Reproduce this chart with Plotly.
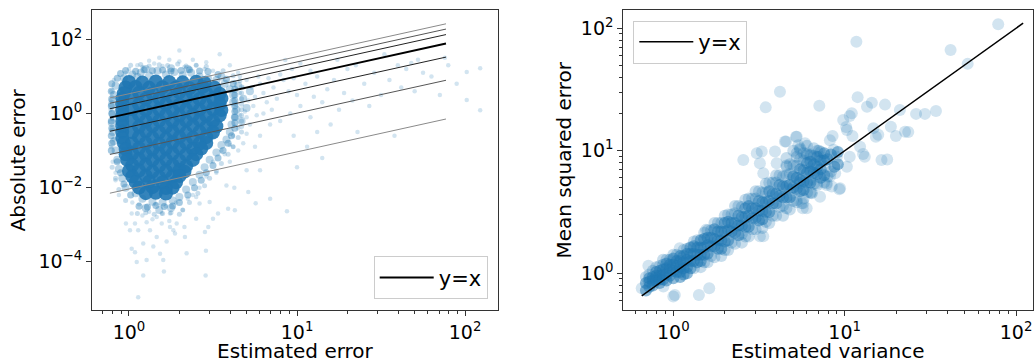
import math
import plotly.graph_objects as go

W, H = 1034, 362
BLUE = '#1f77b4'
FONT = 'DejaVu Sans'

# ---------------- left panel: absolute error vs estimated error ----------------
# dense core of the cloud (estimated error, absolute error)
left_core = [
    (1.0, 7.08), (1.202, 6.8), (1.445, 7.3), (1.738, 7.0), (2.089, 6.9), (2.512, 7.2), (2.818, 6.6),
    (0.955, 5.0), (1.096, 5.2), (1.318, 4.9), (1.585, 5.1), (1.905, 5.0), (2.291, 4.8), (2.754, 5.2), (3.236, 4.9),
    (0.933, 3.5), (1.148, 3.6), (1.380, 3.45), (1.660, 3.55), (1.995, 3.7), (2.399, 3.5), (2.884, 3.6), (3.467, 3.4),
    (0.912, 2.5), (1.047, 2.6), (1.259, 2.45), (1.514, 2.55), (1.820, 2.5), (2.188, 2.6), (2.630, 2.45), (3.162, 2.5), (3.548, 2.55),
    (0.912, 1.78), (1.148, 1.75), (1.380, 1.82), (1.660, 1.78), (1.995, 1.72), (2.399, 1.8), (2.884, 1.76), (3.467, 1.8),
    (0.912, 1.26), (1.047, 1.3), (1.259, 1.24), (1.514, 1.27), (1.820, 1.22), (2.188, 1.28), (2.630, 1.25), (3.162, 1.3), (3.548, 1.24),
    (0.912, 0.89), (1.148, 0.9), (1.380, 0.87), (1.660, 0.91), (1.995, 0.88), (2.399, 0.9), (2.884, 0.86), (3.467, 0.89),
    (0.912, 0.63), (1.047, 0.65), (1.259, 0.62), (1.514, 0.64), (1.820, 0.61), (2.188, 0.63), (2.630, 0.66), (3.162, 0.62),
    (0.912, 0.45), (1.148, 0.44), (1.380, 0.46), (1.660, 0.43), (1.995, 0.45), (2.399, 0.47), (2.884, 0.44), (3.311, 0.45),
    (0.912, 0.32), (1.047, 0.31), (1.259, 0.33), (1.514, 0.31), (1.820, 0.32), (2.188, 0.30), (2.630, 0.32), (3.162, 0.31),
    (0.912, 0.22), (1.148, 0.23), (1.380, 0.22), (1.660, 0.21), (1.995, 0.23), (2.399, 0.22), (2.884, 0.23),
    (0.933, 0.16), (1.047, 0.155), (1.259, 0.16), (1.514, 0.15), (1.820, 0.165), (2.188, 0.16), (2.630, 0.155), (2.884, 0.16),
    (0.955, 0.11), (1.148, 0.115), (1.380, 0.108), (1.660, 0.112), (1.995, 0.118), (2.399, 0.11), (2.692, 0.113),
    (0.955, 0.079), (1.047, 0.082), (1.259, 0.077), (1.514, 0.08), (1.820, 0.083), (2.188, 0.078), (2.512, 0.08),
    (0.977, 0.056), (1.148, 0.058), (1.380, 0.055), (1.660, 0.057), (1.995, 0.054), (2.399, 0.056),
    (1.047, 0.040), (1.259, 0.041), (1.514, 0.039), (1.820, 0.040), (2.188, 0.038),
    (1.0, 0.028), (1.148, 0.029), (1.380, 0.027), (1.660, 0.028), (1.995, 0.029), (2.138, 0.027),
    (1.047, 0.020), (1.259, 0.021), (1.514, 0.019), (1.820, 0.020), (1.995, 0.0205),
    (1.096, 0.0141), (1.318, 0.0145), (1.585, 0.0138), (1.905, 0.014),
    (1.148, 0.010), (1.380, 0.0103), (1.660, 0.0097), (1.820, 0.010),
    (1.259, 0.0071), (1.445, 0.0073), (1.660, 0.0069),
]

# points just outside the core (inner and outer fringe)
left_edge_inner = [
    (0.955, 14.45), (1.096, 13.8), (1.230, 15.0), (1.380, 14.2), (1.585, 14.8), (1.778, 13.9), (2.042, 14.5),
    (2.291, 15.1), (2.630, 14.0), (2.951, 13.5),
    (3.388, 11.22), (3.802, 8.318), (4.169, 6.31),
    (4.266, 4.467), (4.266, 3.162), (4.266, 2.239), (4.266, 1.585), (4.266, 1.122), (4.266, 0.794), (4.266, 0.562),
    (4.266, 0.398),
    (4.074, 0.251), (3.890, 0.158), (3.631, 0.1), (3.388, 0.0631), (3.162, 0.0398), (2.884, 0.0251), (2.692, 0.0158),
    (2.455, 0.01), (2.239, 0.00631), (1.995, 0.00398),
    (1.148, 0.00316), (1.288, 0.0030), (1.445, 0.0033), (1.622, 0.0031), (1.820, 0.0032),
    (1.023, 0.00631), (0.933, 0.0126), (0.891, 0.0251), (0.851, 0.0501),
    (0.785, 0.1), (0.79, 0.158), (0.785, 0.251), (0.79, 0.398), (0.785, 0.631), (0.79, 1.0), (0.785, 1.585),
    (0.79, 2.512), (0.785, 3.981), (0.79, 6.31),
    (0.851, 8.913), (0.891, 12.02),
]
left_edge_outer = [
    (1.023, 19.9), (1.175, 21.0), (1.318, 19.0), (1.514, 20.5), (1.698, 19.5), (1.950, 21.5), (2.188, 19.0),
    (2.512, 20.0), (2.884, 18.5),
    (3.631, 14.13), (4.169, 10.47), (4.571, 7.586),
    (4.677, 5.248), (4.677, 3.548), (4.677, 2.512), (4.677, 1.778), (4.677, 1.259), (4.677, 0.891), (4.677, 0.631),
    (4.677, 0.447), (4.677, 0.316),
    (4.467, 0.224), (4.169, 0.126), (3.890, 0.0794), (3.548, 0.0447), (3.311, 0.0282), (3.020, 0.0178),
    (2.818, 0.0112), (2.570, 0.00708), (2.291, 0.00398), (2.089, 0.00251),
    (1.122, 0.002), (1.259, 0.0021), (1.413, 0.0019), (1.585, 0.002), (1.778, 0.0021), (1.995, 0.0019),
    (0.955, 0.00447), (0.871, 0.00891), (0.832, 0.0178), (0.794, 0.0355),
]

# fringe around the core
left_mid = [
    (1.047, 11.2), (1.175, 12.6), (1.318, 10.5), (1.479, 14.1), (1.660, 11.2), (1.862, 13.2), (2.089, 10.7),
    (2.344, 12.6), (2.630, 10.0), (2.951, 8.91), (1.259, 15.8), (1.778, 16.6), (2.239, 15.8), (1.122, 9.55), (0.933, 8.91),
    (3.311, 7.94), (3.715, 6.31), (3.981, 4.47), (4.169, 3.16), (3.548, 10.0), (4.467, 5.62),
    (4.169, 2.0), (4.365, 1.26), (4.266, 0.794), (4.074, 0.501), (3.981, 0.316), (4.786, 2.51), (5.012, 1.41),
    (4.677, 0.631), (5.248, 3.98), (3.802, 0.2),
    (3.548, 0.141), (3.311, 0.0891), (3.020, 0.0562), (2.818, 0.0355), (2.630, 0.0224), (2.399, 0.0141),
    (2.188, 0.00891), (1.995, 0.00562), (3.162, 0.251),
    (1.820, 0.00447), (1.585, 0.00398), (1.380, 0.00417), (1.202, 0.00501), (1.096, 0.00708), (1.514, 0.00251),
    (1.259, 0.00282), (1.778, 0.00282),
    (0.832, 5.62), (0.813, 3.16), (0.794, 1.78), (0.80, 1.0), (0.79, 0.562), (0.80, 0.316), (0.813, 0.178),
    (0.832, 0.1), (0.851, 0.0562), (0.871, 0.0316), (0.912, 0.0178), (0.955, 0.01),
]

# sparse individual points
left_sparse = [
    (1.0, 15.8), (1.122, 20.0), (1.413, 22.4), (1.585, 19.1), (1.995, 25.1), (2.138, 17.8), (2.512, 20.0),
    (2.818, 15.8), (3.162, 14.1), (1.995, 50.1), (3.467, 39.8), (1.514, 31.6), (2.399, 28.2), (3.981, 20.0),
    (4.467, 12.6), (1.318, 26.3), (0.955, 12.6), (1.738, 28.2), (2.884, 24.0), (1.202, 17.8),
    (5.012, 7.94), (5.370, 5.01), (5.623, 2.82), (5.495, 1.585), (5.754, 0.891), (5.248, 0.501), (5.012, 0.282),
    (6.026, 6.31), (6.310, 3.55), (6.607, 2.0), (6.310, 1.0), (6.918, 0.501), (6.026, 0.251), (7.244, 5.01),
    (7.586, 2.51), (7.079, 1.26), (7.943, 0.631), (4.786, 0.158), (4.467, 0.1), (5.623, 0.126), (8.318, 7.94),
    (8.913, 3.98), (4.571, 10.0), (4.898, 1.122), (5.129, 2.24), (5.888, 10.0), (6.761, 8.91), (7.943, 11.2),
    (4.266, 7.08), (4.571, 3.55), (4.365, 1.78), (4.571, 0.891), (4.467, 0.398), (4.169, 0.251), (3.981, 0.141),
    (3.715, 0.0794), (4.786, 5.01), (5.012, 0.794),
    (10.0, 3.16), (10.47, 1.585), (11.22, 6.31), (12.02, 0.794), (12.59, 2.82), (13.18, 10.0), (14.13, 2.0),
    (15.14, 4.47), (15.85, 0.501), (16.6, 7.94), (17.78, 1.26), (19.05, 3.55), (19.95, 15.8), (21.38, 2.24),
    (22.91, 0.316), (25.12, 6.31), (26.92, 1.585), (28.84, 12.6), (31.62, 3.16), (9.55, 0.251), (11.48, 0.126),
    (14.13, 0.0631), (9.333, 15.8), (10.47, 22.4), (17.38, 28.2), (22.39, 20.0), (9.12, 1.0), (13.18, 0.316),
    (8.51, 27.5), (10.0, 0.0355), (9.55, 8.91), (12.02, 14.1),
    (35.48, 7.94), (39.81, 20.0), (44.67, 15.8), (50.12, 3.98), (56.23, 12.6), (63.1, 10.0), (70.79, 3.16),
    (79.43, 20.0), (89.13, 6.31), (102.3, 2.29), (123.0, 1.23), (102.3, 13.2), (123.0, 16.6), (38.02, 0.251),
    (52.48, 28.2), (47.86, 22.9), (75.86, 31.6), (33.11, 39.8), (41.69, 5.01),
    (1.135, 1.1e-5), (1.216, 4.27e-5), (1.614, 5.5e-5), (2.858, 4.27e-5), (1.112, 9.8e-5), (1.274, 1.12e-4),
    (1.600, 1.12e-4), (2.203, 1.7e-4), (2.871, 2.0e-4), (1.038, 2.24e-4), (1.086, 1.82e-4), (1.531, 1.66e-4),
    (1.675, 3.55e-4), (1.216, 3.09e-4), (1.396, 2.57e-4), (0.959, 1.07e-3), (1.014, 7.08e-4), (2.965, 8.7e-4),
    (2.831, 6.31e-4), (1.754, 8.7e-4), (1.879, 5.75e-4), (2.138, 8.7e-4), (2.153, 4.68e-4), (2.512, 1.45e-3),
    (3.162, 1.45e-3), (3.388, 2.0e-3), (3.89, 2.69e-3), (4.266, 2.45e-3), (5.129, 7.59e-3), (5.675, 3.8e-3),
    (6.918, 5.0e-3), (4.236, 0.01), (3.802, 0.0115), (3.02, 4.07e-3), (2.63, 3.72e-3), (2.512, 5.62e-3),
    (1.038, 2.0e-3), (1.086, 1.07e-3), (1.135, 7.08e-4), (1.334, 7.08e-4), (1.462, 4.68e-4), (1.567, 1.07e-3),
    (1.567, 2.0e-3), (1.754, 2.0e-3), (1.837, 7.08e-4), (1.462, 1.62e-3), (1.274, 1.17e-3), (1.923, 1.07e-3),
    (8.71, 2.29e-3), (5.012, 0.0295), (6.026, 0.0295), (0.871, 6.31e-3), (0.832, 0.0158),
    (1.148, 3.55e-3), (1.318, 2.24e-3), (1.445, 3.55e-3), (1.660, 3.16e-3), (1.905, 3.98e-3), (2.089, 2.51e-3),
    (1.380, 1.41e-3), (1.738, 1.26e-3), (1.202, 1.78e-3), (2.239, 5.01e-3), (1.047, 3.98e-3),
    (3.162, 0.0501), (3.548, 0.1), (2.884, 0.02), (2.63, 0.01), (3.311, 0.0251), (3.981, 0.0501), (4.169, 0.126),
    (2.399, 6.31e-3),
    (0.785, 3.98), (0.776, 1.26), (0.79, 0.398), (0.78, 0.126), (0.80, 0.0501), (0.813, 7.94), (0.832, 0.0251),
    (0.776, 2.24), (0.795, 0.708), (0.81, 0.2),
]

# reference lines y = k * x drawn over the estimated-error range
left_line_x = [0.77, 77.0]
left_line_factors = [3.4, 2.45, 1.74, 1.0, 0.43, 0.102, 0.0092]
left_line_colors = ['#8a8a8a', '#555555', '#222222', '#000000', '#222222', '#555555', '#8a8a8a']
left_line_widths = [1.0, 1.0, 1.0, 1.9, 1.0, 1.0, 1.0]

# ---------------- right panel: mean squared error vs estimated variance ----------------
right_band = [
    (0.692, 0.724), (0.692, 0.832), (0.692, 0.933),
    (0.724, 0.776), (0.724, 0.851), (0.724, 0.912), (0.724, 0.977),
    (0.759, 0.794), (0.759, 0.871), (0.759, 0.933), (0.759, 1.047),
    (0.794, 0.871), (0.794, 0.955), (0.794, 1.023), (0.794, 1.122),
    (0.832, 0.832), (0.832, 0.891), (0.832, 0.955), (0.832, 1.047), (0.832, 1.148),
    (0.871, 0.891), (0.871, 0.977), (0.871, 1.072), (0.871, 1.175), (0.871, 1.288),
    (0.912, 0.871), (0.912, 0.977), (0.912, 1.096), (0.912, 1.202), (0.912, 1.288),
    (0.955, 0.955), (0.955, 1.072), (0.955, 1.175), (0.955, 1.288),
    (1.0, 0.912), (1.0, 1.047), (1.0, 1.175), (1.0, 1.318), (1.0, 1.413),
    (1.047, 1.023), (1.047, 1.148), (1.047, 1.259), (1.047, 1.413),
    (1.096, 0.933), (1.096, 1.023), (1.096, 1.122), (1.096, 1.259), (1.096, 1.380),
    (1.148, 0.977), (1.148, 1.096), (1.148, 1.230), (1.148, 1.380), (1.148, 1.549),
    (1.202, 1.0), (1.202, 1.122), (1.202, 1.288), (1.202, 1.445), (1.202, 1.585),
    (1.259, 1.096), (1.259, 1.259), (1.259, 1.445), (1.259, 1.622),
    (1.318, 1.096), (1.318, 1.259), (1.318, 1.445), (1.318, 1.660), (1.318, 1.820),
    (1.380, 1.230), (1.380, 1.413), (1.380, 1.622), (1.380, 1.862),
    (1.445, 1.122), (1.445, 1.259), (1.445, 1.413), (1.445, 1.622), (1.445, 1.862),
    (1.514, 1.230), (1.514, 1.413), (1.514, 1.622), (1.514, 1.905), (1.514, 2.138),
    (1.585, 1.230), (1.585, 1.445), (1.585, 1.698), (1.585, 1.950), (1.585, 2.239),
    (1.660, 1.380), (1.660, 1.660), (1.660, 1.950), (1.660, 2.239),
    (1.738, 1.349), (1.738, 1.660), (1.738, 1.905), (1.738, 2.291), (1.738, 2.570),
    (1.820, 1.585), (1.820, 1.862), (1.820, 2.188), (1.820, 2.570),
    (1.905, 1.380), (1.905, 1.585), (1.905, 1.862), (1.905, 2.188), (1.905, 2.570),
    (1.995, 1.549), (1.995, 1.820), (1.995, 2.188), (1.995, 2.570), (1.995, 2.951),
    (2.089, 1.549), (2.089, 1.862), (2.089, 2.239), (2.089, 2.630), (2.089, 3.020),
    (2.188, 1.778), (2.188, 2.188), (2.188, 2.570), (2.188, 3.020),
    (2.291, 1.738), (2.291, 2.138), (2.291, 2.570), (2.291, 3.090), (2.291, 3.548),
    (2.399, 2.042), (2.399, 2.455), (2.399, 2.951), (2.399, 3.548),
    (2.512, 1.778), (2.512, 2.089), (2.512, 2.455), (2.512, 2.884), (2.512, 3.467),
    (2.630, 1.995), (2.630, 2.399), (2.630, 2.884), (2.630, 3.388), (2.630, 3.981),
    (2.754, 1.995), (2.754, 2.399), (2.754, 2.951), (2.754, 3.548), (2.754, 4.074),
    (2.884, 2.291), (2.884, 2.818), (2.884, 3.388), (2.884, 4.074),
    (3.020, 2.291), (3.020, 2.818), (3.020, 3.388), (3.020, 4.074), (3.020, 4.677),
    (3.162, 2.692), (3.162, 3.236), (3.162, 3.890), (3.162, 4.677),
    (3.311, 2.344), (3.311, 2.754), (3.311, 3.236), (3.311, 3.802), (3.311, 4.571),
    (3.467, 2.630), (3.467, 3.162), (3.467, 3.802), (3.467, 4.571), (3.467, 5.370),
    (3.631, 2.570), (3.631, 3.162), (3.631, 3.890), (3.631, 4.677), (3.631, 5.495),
    (3.802, 2.951), (3.802, 3.715), (3.802, 4.467), (3.802, 5.495),
    (3.981, 2.951), (3.981, 3.715), (3.981, 4.467), (3.981, 5.495), (3.981, 6.310),
    (4.169, 3.467), (4.169, 4.266), (4.169, 5.248), (4.169, 6.310),
    (4.365, 2.951), (4.365, 3.548), (4.365, 4.169), (4.365, 5.129), (4.365, 6.166),
    (4.571, 3.388), (4.571, 4.169), (4.571, 5.129), (4.571, 6.310), (4.571, 7.586),
    (4.786, 3.311), (4.786, 4.169), (4.786, 5.248), (4.786, 6.457), (4.786, 7.762),
    (5.012, 3.890), (5.012, 5.012), (5.012, 6.166), (5.012, 7.586),
    (5.248, 3.802), (5.248, 4.898), (5.248, 6.026), (5.248, 7.586), (5.248, 8.913),
    (5.495, 4.677), (5.495, 5.754), (5.495, 7.079), (5.495, 8.511),
    (5.754, 4.074), (5.754, 4.786), (5.754, 5.623), (5.754, 6.918), (5.754, 8.318),
    (6.026, 4.571), (6.026, 5.495), (6.026, 6.607), (6.026, 7.943), (6.026, 9.333),
    (6.310, 4.571), (6.310, 5.495), (6.310, 6.761), (6.310, 8.128), (6.310, 9.333),
    (6.607, 5.370), (6.607, 6.607), (6.607, 7.762), (6.607, 9.120),
    (6.918, 5.248), (6.918, 6.457), (6.918, 7.413), (6.918, 8.913), (6.918, 10.0),
    (7.244, 6.026), (7.244, 7.079), (7.244, 8.318), (7.244, 9.772),
    (7.586, 5.495), (7.586, 6.310), (7.586, 8.318), (7.586, 9.550),
    (7.943, 6.166), (7.943, 8.511),
    (8.318, 6.761), (8.318, 9.333),
    (8.710, 7.413),
    (9.120, 7.762), (9.120, 9.772),
    (4.571, 8.71), (5.012, 10.0), (5.495, 10.47), (6.026, 10.96), (6.607, 10.47), (7.079, 10.0),
    (5.248, 9.55), (6.310, 9.12), (5.754, 9.55),
]

right_outliers = [
    (78.7, 108.0), (11.7, 77.6), (41.5, 66.5), (52.2, 51.2), (4.19, 30.3), (3.46, 22.6), (7.11, 23.3),
    (11.9, 27.4), (13.5, 22.9), (14.4, 24.7), (17.2, 23.8), (21.0, 21.5), (26.1, 20.0), (29.4, 20.0), (34.1, 21.1),
    (9.8, 17.8), (10.2, 15.6), (10.7, 19.2), (11.0, 20.2), (11.1, 13.2), (10.3, 14.8), (8.5, 13.2), (8.2, 12.2),
    (14.7, 15.3), (15.7, 13.5), (15.2, 13.0), (18.6, 15.7), (19.9, 13.2), (22.5, 14.3), (23.5, 14.2),
    (16.4, 8.4), (17.7, 8.5), (12.3, 10.8), (12.8, 9.4), (13.1, 8.95), (9.3, 4.85),
    (4.55, 11.9), (5.2, 13.0), (5.36, 11.1), (6.42, 4.55), (7.85, 5.43), (8.2, 6.15), (8.8, 6.55), (10.3, 7.4),
    (10.7, 8.95), (8.6, 10.2), (9.0, 8.95), (7.18, 8.95), (7.67, 7.41), (6.42, 7.41), (6.0, 9.55), (5.48, 10.2),
    (5.87, 11.5), (4.59, 7.41), (5.01, 6.15), (5.48, 5.43), (4.8, 4.79), (5.25, 3.96), (6.27, 5.78), (6.87, 5.43),
    (7.18, 4.22), (5.73, 3.73), (5.69, 3.39), (6.42, 4.5), (7.85, 5.25), (8.4, 5.1), (9.4, 4.94), (3.2, 2.0),
    (6.0, 3.39), (5.61, 3.73), (3.35, 2.0),
    (2.56, 8.4), (3.07, 9.55), (3.28, 9.84), (3.92, 9.84), (4.01, 7.91), (3.2, 7.91), (4.48, 11.9), (5.25, 13.0),
    (3.35, 6.55),
    (0.654, 0.755), (0.715, 1.15), (1.02, 0.665), (1.41, 0.665), (1.62, 0.755), (1.09, 1.6), (0.79, 0.91),
    (1.55, 2.26), (0.875, 0.778), (1.0, 0.645),
]

right_line_x = [0.654, 110.0]


def xs(pts):
    return [p[0] for p in pts]


def ys(pts):
    return [p[1] for p in pts]


def scat(pts, axes, size, opacity):
    return go.Scatter(x=xs(pts), y=ys(pts), mode='markers', xaxis=axes[0], yaxis=axes[1],
                      marker=dict(color=BLUE, size=size, opacity=opacity, line=dict(width=0)),
                      showlegend=False, hoverinfo='skip')


fig = go.Figure()
L = ('x', 'y')
R = ('x2', 'y2')

# left panel scatter layers (sparse -> dense)
fig.add_trace(scat(left_sparse, L, 4.5, 0.2))
fig.add_trace(scat(left_edge_outer, L, 5, 0.25))
fig.add_trace(scat(left_mid, L, 8, 0.3))
fig.add_trace(scat(left_edge_inner, L, 7, 0.4))
fig.add_trace(scat(left_core, L, 14, 0.9))

for k, col, lw in zip(left_line_factors, left_line_colors, left_line_widths):
    is_id = (k == 1.0)
    fig.add_trace(go.Scatter(x=left_line_x, y=[k * v for v in left_line_x], mode='lines',
                             xaxis='x', yaxis='y', line=dict(color=col, width=lw),
                             name='y=x', showlegend=is_id, legend='legend', hoverinfo='skip'))

# right panel: points close to the band centre are drawn a little stronger (overplotting)
band_opacity = [0.5 if abs(math.log10(y / x) - 0.02) < 0.1 else 0.25 for x, y in right_band]
fig.add_trace(go.Scatter(x=xs(right_band), y=ys(right_band), mode='markers', xaxis='x2', yaxis='y2',
                         marker=dict(color=BLUE, size=12, opacity=band_opacity, line=dict(width=0)),
                         showlegend=False, hoverinfo='skip'))
fig.add_trace(scat(right_outliers, R, 12, 0.2))
fig.add_trace(go.Scatter(x=right_line_x, y=right_line_x, mode='lines', xaxis='x2', yaxis='y2',
                         line=dict(color='black', width=1.5), name='y=x', legend='legend2',
                         hoverinfo='skip'))

M = '\u2212'
dec_minor = [0.7, 0.8, 0.9] + [v for v in range(2, 10)] + [10 * v for v in range(2, 10)]
right_minor = [0.6, 0.7, 0.8, 0.9] + [v for v in range(2, 10)] + [10 * v for v in range(2, 10)]

tickfont = dict(family=FONT, size=19, color='black')
titlefont = dict(family=FONT, size=20, color='black')
common = dict(type='log', showline=True, mirror=True, linecolor='#333333', linewidth=1,
              ticks='outside', ticklen=5, tickwidth=1, tickcolor='#333333',
              showgrid=False, zeroline=False, tickfont=tickfont, automargin=False)
minor_style = dict(ticks='outside', ticklen=3, tickwidth=0.8, tickcolor='#333333', showgrid=False)

# axis titles placed as paper annotations
axis_titles = [
    dict(text='Estimated error', x=295 / W, y=1 - 337 / H, xanchor='center', yanchor='top', textangle=0),
    dict(text='Estimated variance', x=828 / W, y=1 - 337 / H, xanchor='center', yanchor='top', textangle=0),
    dict(text='Absolute error', x=17.5 / W, y=1 - 160 / H, xanchor='center', yanchor='middle', textangle=-90),
    dict(text='Mean squared error', x=563.5 / W, y=1 - 160 / H, xanchor='center', yanchor='middle', textangle=-90),
]
annotations = [dict(xref='paper', yref='paper', showarrow=False, font=titlefont, **a) for a in axis_titles]

legend_style = dict(bgcolor='rgba(255,255,255,0.8)', bordercolor='#cccccc', borderwidth=1,
                    itemwidth=54, font=dict(family=FONT, size=21, color='black'))

fig.update_layout(
    width=W, height=H, margin=dict(l=0, r=0, t=0, b=0),
    paper_bgcolor='white', plot_bgcolor='white',
    font=dict(family=FONT, color='black'),
    annotations=annotations,
    xaxis=dict(domain=[92 / W, 498 / W], anchor='y', range=[-0.22, 2.196],
               tickmode='array', tickvals=[1, 10, 100],
               ticktext=['10<sup>0</sup>', '10<sup>1</sup>', '10<sup>2</sup>'],
               minor=dict(tickmode='array', tickvals=dec_minor, **minor_style), **common),
    yaxis=dict(domain=[1 - 310 / H, 1 - 10 / H], anchor='x', range=[-5.3, 2.79],
               tickmode='array', tickvals=[1e-4, 1e-2, 1, 100],
               ticktext=['10<sup>' + M + '4</sup>', '10<sup>' + M + '2</sup>', '10<sup>0</sup>', '10<sup>2</sup>'],
               **common),
    xaxis2=dict(domain=[623.3 / W, 1033 / W], anchor='y2', range=[-0.292, 2.099],
                tickmode='array', tickvals=[1, 10, 100],
                ticktext=['10<sup>0</sup>', '10<sup>1</sup>', '10<sup>2</sup>'],
                minor=dict(tickmode='array', tickvals=right_minor, **minor_style), **common),
    yaxis2=dict(domain=[1 - 310 / H, 1 - 10 / H], anchor='x2', range=[-0.30, 2.149],
                tickmode='array', tickvals=[1, 10, 100],
                ticktext=['10<sup>0</sup>', '10<sup>1</sup>', '10<sup>2</sup>'],
                minor=dict(tickmode='array', tickvals=right_minor, **minor_style), **common),
    legend=dict(x=487.7 / W, xanchor='right', y=1 - 299.3 / H, yanchor='bottom', **legend_style),
    legend2=dict(x=633.3 / W, xanchor='left', y=1 - 20.7 / H, yanchor='top', **legend_style),
)

fig.write_html('out.html', config={'displayModeBar': False},
               post_script="document.body.style.margin='0';document.body.style.overflow='hidden';")
